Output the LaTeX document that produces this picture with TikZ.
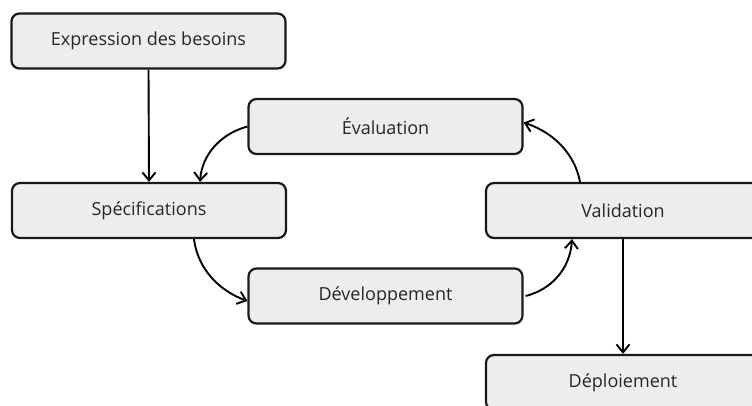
\documentclass[tikz,border=0pt]{standalone}
\usepackage{fontspec}
\setmainfont{Open Sans}
\usetikzlibrary{arrows.meta}
\begin{document}
\begin{tikzpicture}[x=1pt,y=-1pt,
  stage/.style={draw=black!90,line width=2.2pt,rounded corners=8pt,fill=black!7,
    minimum width=274pt,minimum height=55pt,inner sep=0pt,font=\fontsize{18}{21}\selectfont,text=black!85},
  flow/.style={line width=1.9pt,-{Straight Barb[length=8pt,width=13pt,line width=1.9pt]}}]
\useasboundingbox (0,0) rectangle (752,405);
\clip (0,0) rectangle (752,405);
\node[stage] (exp) at (148.5,41) {Expression des besoins};
\node[stage] (eva) at (385.5,126.5) {Évaluation};
\node[stage] (spe) at (149,210.5) {Spécifications};
\node[stage] (val) at (623,210.5) {Validation};
\node[stage] (dev) at (385.5,296) {Développement};
\node[stage] (dep) at (623,382.5) {Déploiement};
\draw[flow] (exp.south) -- (spe.north);
\draw[flow] (val.south) -- (dep.north);
\draw[flow] ([yshift=0pt]eva.west) .. controls (220,134) and (202,155) .. ([xshift=51pt]spe.north);
\draw[flow] ([xshift=45pt]spe.south) .. controls (198,270) and (220,291) .. ([yshift=-5pt]dev.west);
\draw[flow] ([xshift=2pt]dev.east) .. controls (550,290) and (570,270) .. ([xshift=-51pt]val.south);
\draw[flow] ([xshift=-43pt]val.north) .. controls (575,155) and (555,133) .. ([yshift=4pt]eva.east);
\end{tikzpicture}
\end{document}
